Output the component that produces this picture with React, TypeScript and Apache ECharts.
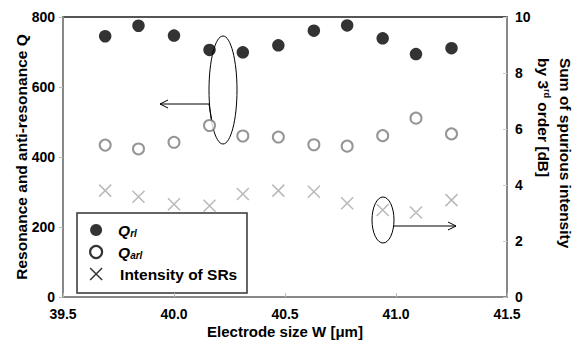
import React, { useEffect, useRef } from "react";
import * as echarts from "echarts";

const electrodeW = [39.69, 39.84, 40.0, 40.16, 40.31, 40.47, 40.63, 40.78, 40.94, 41.09, 41.25];
const qRl = [745, 775, 747, 706, 699, 719, 761, 776, 739, 694, 711];
const qArl = [434, 423, 442, 490, 460, 457, 435, 431, 461, 511, 466];
const intensitySR = [3.8, 3.58, 3.31, 3.26, 3.68, 3.8, 3.76, 3.35, 3.11, 3.02, 3.46];

const seriesNames = ["Q_rl", "Q_arl", "Intensity of SRs"];
const leftTitle = "Resonance and anti-resonance Q";
const xTitle = "Electrode size W [\u03bcm]";
const rightTitle1 = "Sum of spurious intensity";
const rightTitle2 = "by 3{sup|rd} order [dB]";

const FONT = "'Liberation Sans', Arial, sans-serif";
const X_PATH = "path://M0,0L10,10M10,0L0,10";

export default function App() {
  const ref = useRef<HTMLDivElement>(null);
  useEffect(() => {
    if (!ref.current) return;
    const chart = echarts.init(ref.current, null, { renderer: "svg" });
    const pair = (ys: number[]) => electrodeW.map((x, i) => [x, ys[i]]);
    const tickLabel = { fontFamily: FONT, fontWeight: "bold", fontSize: 14, color: "#000" };
    chart.setOption({
      animation: false,
      backgroundColor: "#fff",
      grid: {
        left: 63, top: 17, right: 65, bottom: 43,
        outerBoundsMode: "none", containLabel: false,
        show: true, borderColor: "#555", borderWidth: 2, backgroundColor: "transparent",
      },
      xAxis: {
        type: "value", min: 39.5, max: 41.5, interval: 0.5,
        name: xTitle, nameLocation: "middle", nameGap: 27, nameMoveOverlap: false,
        nameTextStyle: { fontFamily: FONT, fontWeight: "bold", fontSize: 15, lineHeight: 15, color: "#000" },
        axisLine: { show: true, lineStyle: { color: "#888", width: 2 } },
        axisTick: { show: true, inside: true, length: 4, lineStyle: { color: "#bbb" } },
        axisLabel: { ...tickLabel, margin: 10, formatter: (v: number) => v.toFixed(1) },
        splitLine: { show: false },
      },
      yAxis: [
        {
          type: "value", min: 0, max: 800, interval: 200,
          name: leftTitle, nameLocation: "middle", nameGap: 34, nameRotate: 90, nameMoveOverlap: false,
          nameTextStyle: { fontFamily: FONT, fontWeight: "bold", fontSize: 15.5, color: "#000" },
          axisLine: { show: true, lineStyle: { color: "#888", width: 2 } },
          axisTick: { show: true, inside: false, length: 4, lineStyle: { color: "#bbb" } },
          axisLabel: { ...tickLabel, margin: 8 },
          splitLine: { show: false },
        },
        {
          type: "value", min: 0, max: 10, interval: 2, position: "right",
          axisLine: { show: true, lineStyle: { color: "#888", width: 2 } },
          axisTick: { show: true, inside: true, length: 4, lineStyle: { color: "#ccc" } },
          axisLabel: { ...tickLabel, margin: 8 },
          splitLine: { show: false },
        },
      ],
      legend: {
        left: 89, top: 222, orient: "vertical", itemWidth: 12, itemHeight: 12, itemGap: 6,
        padding: 0,
        data: [
          { name: seriesNames[0], icon: "circle", itemStyle: { color: "#000", borderWidth: 0 } },
          { name: seriesNames[1], icon: "circle", itemStyle: { color: "#fff", borderColor: "#000", borderWidth: 2.2 } },
          { name: seriesNames[2], icon: X_PATH, itemStyle: { color: "transparent", borderColor: "#000", borderWidth: 1.5 } },
        ],
        formatter: (name: string) => {
          if (name === seriesNames[0]) return "{q|Q}{s|rl}";
          if (name === seriesNames[1]) return "{q|Q}{s|arl}";
          return "{t|" + name + "}";
        },
        textStyle: {
          fontFamily: FONT, fontWeight: "bold", fontSize: 15.5, color: "#000", lineHeight: 12,
          rich: {
            q: { fontFamily: FONT, fontWeight: "bold", fontStyle: "italic", fontSize: 15.5, padding: [0, 0, 0, 11], lineHeight: 12 },
            s: { fontFamily: FONT, fontWeight: "bold", fontStyle: "italic", fontSize: 10, padding: [6, 0, 0, 0], lineHeight: 6 },
            t: { fontFamily: FONT, fontWeight: "bold", fontSize: 15.5, padding: [0, 0, 0, 13], lineHeight: 12 },
          },
        },
      },
      series: [
        {
          name: seriesNames[0], type: "scatter", yAxisIndex: 0, data: pair(qRl),
          symbol: "circle", symbolSize: 12.5, itemStyle: { color: "#000" },
        },
        {
          name: seriesNames[1], type: "scatter", yAxisIndex: 0, data: pair(qArl),
          symbol: "circle", symbolSize: 11, itemStyle: { color: "#fff", borderColor: "#7a7a7a", borderWidth: 2 },
        },
        {
          name: seriesNames[2], type: "scatter", yAxisIndex: 1, data: pair(intensitySR),
          symbol: X_PATH, symbolSize: 12, itemStyle: { color: "transparent", borderColor: "#a8a8a8", borderWidth: 1.5 },
        },
      ],
      graphic: [
        { type: "rect", z: -1, shape: { x: 77, y: 213, width: 170, height: 80 }, style: { fill: "#fff", stroke: "#333", lineWidth: 1.5 } },
        { type: "ellipse", shape: { cx: 223, cy: 90, rx: 14, ry: 54 }, style: { fill: "none", stroke: "#000", lineWidth: 1 } },
        { type: "polyline", shape: { points: [[160, 104], [209, 104], [212, 122]] }, style: { fill: "none", stroke: "#000", lineWidth: 1 } },
        { type: "polyline", shape: { points: [[168, 100], [160, 104], [168, 108]] }, style: { fill: "none", stroke: "#000", lineWidth: 1 } },
        { type: "ellipse", shape: { cx: 383, cy: 220, rx: 11, ry: 23 }, style: { fill: "none", stroke: "#000", lineWidth: 1 } },
        { type: "polyline", shape: { points: [[393, 226], [456, 226]] }, style: { fill: "none", stroke: "#000", lineWidth: 1 } },
        { type: "polyline", shape: { points: [[448, 222], [456, 226], [448, 230]] }, style: { fill: "none", stroke: "#000", lineWidth: 1 } },
        {
          type: "text", x: 565, y: 58, rotation: -Math.PI / 2,
          style: { text: rightTitle1, fontFamily: FONT, fontWeight: "bold", fontSize: 15.5, fill: "#000", align: "left", verticalAlign: "middle" },
        },
        {
          type: "text", x: 543, y: 58, rotation: -Math.PI / 2,
          style: {
            text: rightTitle2, fontFamily: FONT, fontWeight: "bold", fontSize: 15.5, fill: "#000", align: "left", verticalAlign: "middle",
            rich: { sup: { fontFamily: FONT, fontWeight: "bold", fontSize: 9, padding: [0, 0, 8, 0] } },
          },
        },
      ],
    });
    return () => chart.dispose();
  }, []);
  return <div ref={ref} style={{ position: "fixed", left: 0, top: 0, width: 572, height: 340 }} />;
}
